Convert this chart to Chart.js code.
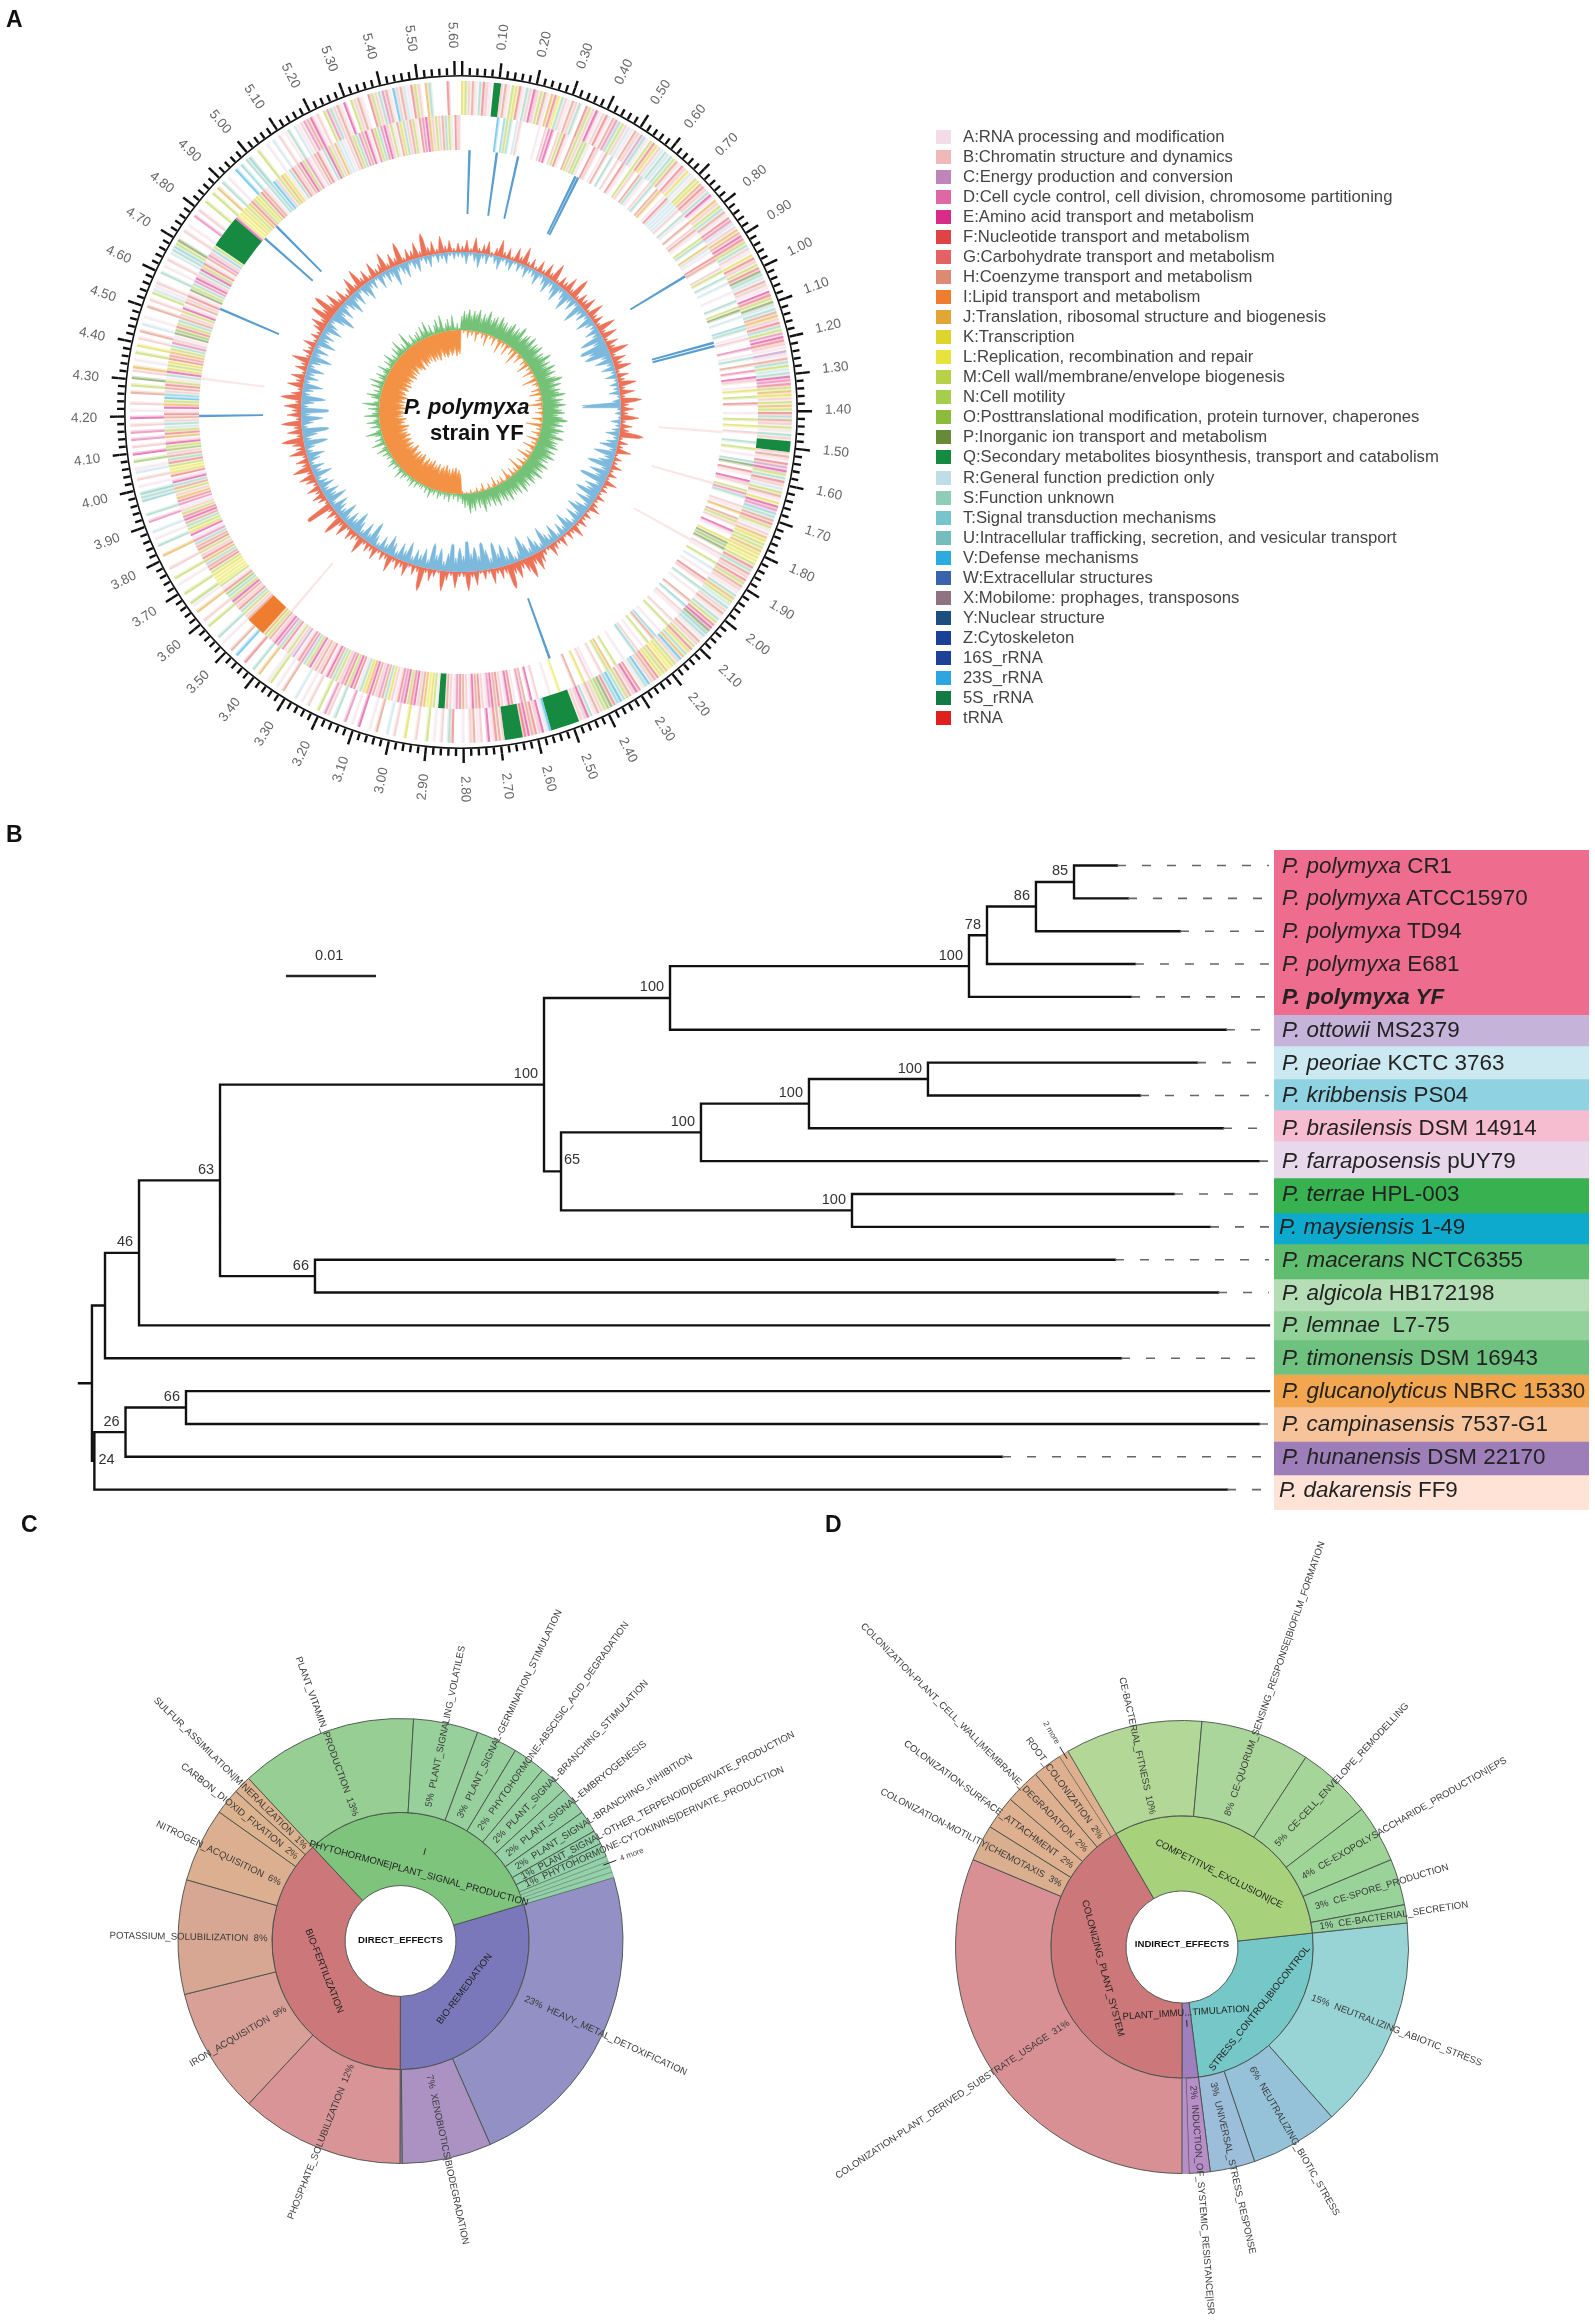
<!DOCTYPE html>
<html><head><meta charset="utf-8">
<style>
html,body{margin:0;padding:0;background:#fff;}
body{position:relative;width:1595px;height:2321px;overflow:hidden;font-family:"Liberation Sans",Arial,sans-serif;}
canvas{position:absolute;display:block;filter:blur(.45px);}
#overlay{filter:blur(.35px);}
.t{position:absolute;white-space:pre;}
.lg{position:absolute;width:14.5px;height:14px;}
</style>
<script src="https://cdn.jsdelivr.net/npm/chart.js@4"></script>
</head><body>
<canvas id="ringCanvas" width="800" height="800" style="left:61px;top:12px"></canvas>
<canvas id="gcCanvas" width="380" height="380" style="left:271px;top:222px"></canvas>
<canvas id="skewCanvas" width="220" height="220" style="left:351px;top:302px"></canvas>
<canvas id="treeCanvas" width="1214" height="660" style="left:60px;top:850px"></canvas>
<canvas id="bandCanvas" width="315" height="660" style="left:1274px;top:850px"></canvas>
<canvas id="directCanvas" width="791" height="790" style="left:5px;top:1546px"></canvas>
<canvas id="indirectCanvas" width="840" height="840" style="left:762px;top:1527px"></canvas>
<div id="overlay"></div>
<script>
/* ---------- Panel A data ---------- */
const legendLabels=["A:RNA processing and modification","B:Chromatin structure and dynamics","C:Energy production and conversion","D:Cell cycle control, cell division, chromosome partitioning","E:Amino acid transport and metabolism","F:Nucleotide transport and metabolism","G:Carbohydrate transport and metabolism","H:Coenzyme transport and metabolism","I:Lipid transport and metabolism","J:Translation, ribosomal structure and biogenesis","K:Transcription","L:Replication, recombination and repair","M:Cell wall/membrane/envelope biogenesis","N:Cell motility","O:Posttranslational modification, protein turnover, chaperones","P:Inorganic ion transport and metabolism","Q:Secondary metabolites biosynthesis, transport and catabolism","R:General function prediction only","S:Function unknown","T:Signal transduction mechanisms","U:Intracellular trafficking, secretion, and vesicular transport","V:Defense mechanisms","W:Extracellular structures","X:Mobilome: prophages, transposons","Y:Nuclear structure","Z:Cytoskeleton","16S_rRNA","23S_rRNA","5S_rRNA","tRNA"];
const legendColors=["#F1DCE7","#EFB9B9","#C084B8","#DF68A4","#D92B88","#DE4444","#E46264","#DD8A72","#EE7D2F","#E2A636","#DDD52E","#E8E33C","#B8D148","#A6CD4B","#8DBB3C","#678A39","#178A42","#BFDDE6","#90CDB8","#76C4CC","#73BDBD","#2BABE0","#3A63AE","#907383","#1C4E80","#1A4197","#1D4198","#2BA6DE","#127A43","#E0201F"];
const genomeMb=5.62;
const forwardRing=["KMBHASGBAQ","QBHAMKGASB","EBMHAJGLSB","AHBS.GMBEA","BGAHDSMBRA","HBCSAMGKBR","SRSMHAGBKR","AMKHGBSEAJ","BMSHAGDRBJ","HEGMSBAKGB","MGPSRHBAEG","MPRSHJBGSM","DEGBACAHSM","RSEDGMJKBM","JMGSHBMASB","QQQBHAGCEM","SGBRMHAKED","TSHGMABJKM","MJKKLMGSHB","GMHBASJMRS","BHASMGEPTS","AHBMGKSJVB","MKLJMKGHBV","SAGEBHMSVT","GPOMBHASEB","BQQQQQQQQV","AEBGHEFQQQ","QQBHGAE.BA","HB.A..GS.B",".A.M..B..K","..B.R..H.A","..E.A.D..S",".BD.M..B.A",".R...H.A.M","A..J.S..G.",".V.H..A.S.","..M.B..J.A","N..M..A.M.",".B...J..S.","A.R..D.S..",".TSU.A.B.R","A.O.E.B.D.","D.B.E.A.B.",".H.M.P.BJ.","A.M.K.B.H.","R.A..H.B.M","RAB..S.A.B",".RSTMP..B.","A..D.B..M.",".M.J.S.A..","V.T.SU..M.",".A.R.B.AS.","RABDHEAB.M","DSBHAE.MBH","A.GMBSDHAV","BHRAGMB.JS","....G..."];
const reverseRing=["..........",".V.TMS.RB.","....A.BDE.","BMGA.HMBNN","A.GB.AH.S.","B.GA.MB.HS","A.BS.HJ.AG","RRRRB.SA.H",".BHA.MS.JR","A.GH..BM.S",".R..A..S.M","P.R..TS.AB","..D.AS.H.D",".EB.AK.M.G","..A.M.K.B.",".S.M.A.SP.","GA.EB.MDS.",".BAJ.HMB.E","A.KPOP.BA.","M.R.A.GB.S",".A..H.T.BA","..B.M..A.T","H.M.A.BT..",".A..M.JM.B","..AB.K..H.","...L..A...","B.E.HD.AGE","ABGHEDABGH","EABHGDABHQ","QAMKLJHBEG","MEDGABKSHD","BHEJKSAGEM","GDBMSHEAGB","HBEMSDGACB","MAGSDEBHMJ","IIIIIIHBMS","GBHEMSOGAM","LLLKMGHSJG","BMGHSDAEKM","SHEGMBADGJ","BMHSEAGKLM","GSHBOMEAJG","MRSBHGAEJM","VTBHGMASEK","MKGHJMSDBA","POGMSHBMEA","HBGAPMSDEB","SEMGAHDBTM","QQQQQQQQQQ","ELLKKMJGMK","MGHASTVBMJ","KASGBHEMDA","BHGASEMBJR","RABHMSDHEA","GMSDEBMAHK","SBHMAGDEJB","MBHSMAGB"];
const rnaPositions=[0.025,0.119,0.193,0.401,0.411,0.915,1.163,1.168,1.464,1.642,1.85,2.493,3.433,4.195,4.324,4.571,4.858,4.915];
const rnaKinds=["b","b","b","b","b","b","b","b","p","p","p","b","p","b","p","b","b","b"];
const tickMinorMb=0.02, tickMajorMb=0.1, tickWidthMb=0.0062;
const tickLabels=["0.10","0.20","0.30","0.40","0.50","0.60","0.70","0.80","0.90","1.00","1.10","1.20","1.30","1.40","1.50","1.60","1.70","1.80","1.90","2.00","2.10","2.20","2.30","2.40","2.50","2.60","2.70","2.80","2.90","3.00","3.10","3.20","3.30","3.40","3.50","3.60","3.70","3.80","3.90","4.00","4.10","4.20","4.30","4.40","4.50","4.60","4.70","4.80","4.90","5.00","5.10","5.20","5.30","5.40","5.50","5.60"];
const gcPlus=[6,12,4,15,5,9,13,3,8,17,6,11,4,14,7,18,5,10,4,12,
5,14,7,19,4,11,8,16,6,22,5,12,9,15,4,17,7,11,5,19,
6,16,4,13,8,20,5,14,9,17,4,12,7,18,6,15,5,21,8,13,
7,18,5,12,9,24,4,10,6,15,3,8,5,11,4,9,3,13,5,7,
3,9,4,7,12,3,8,5,10,4,14,6,9,3,11,5,8,13,4,7,
12,18,10,22,14,9,17,11,25,8,12,6,15,4,9,3,14,6,19,5,
5,16,4,9,20,3,7,12,5,24,6,10,4,14,7,11,5,17,6,9,
4,13,7,10,5,18,6,9,12,4,15,7,22,5,11,6,28,4,9,13,
7,14,5,11,16,6,19,8,13,5,17,9,12,22,6,15,8,20,5,14,
9,17,6,21,11,5,16,8,14,4,12,7,18,5,10,6,13,4,9,5,
11,16,8,22,12,25,10,18,7,14,5,9,17,6,20,8,13,5,16,7,
10,19,6,14,8,22,5,12,9,16,6,23,8,13,5,17,7,12,4,9];
const gcMinus=[-6,-12,-4,-9,-15,-5,-10,-3,-8,-13,-4,-7,-11,-3,-9,-5,-12,-6,-8,-14,
-5,-10,-16,-7,-12,-18,-6,-11,-20,-8,-14,-5,-22,-9,-13,-6,-18,-10,-7,-15,
-9,-24,-12,-28,-20,-26,-10,-18,-7,-14,-5,-12,-4,-9,-6,-11,-3,-8,-34,-4,
-6,-3,-10,-5,-8,-14,-6,-12,-18,-7,-22,-10,-15,-25,-9,-20,-12,-27,-8,-18,
-14,-24,-10,-19,-7,-15,-21,-9,-17,-6,-12,-20,-8,-14,-5,-18,-10,-13,-22,-7,
-12,-19,-8,-15,-24,-10,-6,-17,-9,-22,-14,-26,-11,-20,-28,-15,-24,-18,-30,-16,
-24,-14,-28,-18,-10,-22,-15,-26,-9,-19,-12,-16,-8,-21,-11,-17,-7,-14,-20,-9,
-15,-6,-12,-24,-9,-18,-7,-14,-22,-11,-16,-8,-20,-10,-13,-18,-6,-21,-12,-17,
-8,-16,-11,-6,-19,-9,-14,-5,-12,-18,-7,-10,-24,-8,-15,-27,-6,-12,-22,-9,
-28,-7,-13,-24,-8,-11,-20,-6,-14,-9,-18,-7,-12,-22,-9,-16,-6,-20,-11,-15,
-8,-19,-12,-6,-15,-24,-10,-17,-7,-13,-20,-9,-16,-5,-12,-18,-8,-11,-4,-15,
-6,-13,-9,-20,-7,-11,-16,-5,-10,-14,-4,-8,-12,-3,-9,-6,-11,-4,-7,-5];
const skewPlus=[14,19,16,21,15,20,17,22,14,19,16,23,15,18,20,14,22,17,19,15,
18,22,15,20,17,24,14,19,21,16,23,15,20,18,22,14,19,17,24,16,
20,15,23,17,21,14,19,25,16,22,15,20,18,24,14,21,17,23,16,19,
22,15,20,25,17,21,14,23,18,16,24,15,20,19,22,14,21,17,23,16,
19,14,22,17,20,15,23,16,18,21,14,19,17,22,13,20,16,18,15,21,
14,19,16,13,20,15,18,12,17,14,21,13,16,11,18,15,20,12,14,10,
5,8,3,6,2,9,4,7,3,5,8,2,6,4,10,3,7,2,5,4,
3,7,2,9,4,6,2,5,8,3,11,4,2,7,3,9,5,2,6,4,
8,3,12,5,2,14,4,9,3,7,16,5,2,10,4,13,6,3,15,7,
4,11,3,17,6,2,9,14,4,8,3,12,5,15,3,7,11,4,6,13,
5,3,10,6,14,4,8,3,12,7,16,5,9,4,18,6,3,11,5,8,
10,4,13,7,16,5,11,3,9,14,6,17,4,8,12,5,15,3,7,2];
const skewMinus=[0,-3,-1,-8,-2,-5,-1,-10,-3,-1,-6,-2,-12,-1,-4,-2,-9,-1,-3,-14,
-2,-6,-1,-12,-3,-1,-8,-2,-16,-1,-4,-10,-2,-1,-7,-3,-13,-1,-5,-2,
-11,-1,-4,-2,-15,-1,-6,-3,-1,-9,-2,-12,-1,-3,-7,-1,-14,-2,-5,-1,
-8,-2,-1,-11,-3,-1,-16,-2,-5,-1,-9,-3,-1,-12,-2,-6,-1,-13,-4,-1,
-7,-2,-14,-1,-5,-2,-10,-1,-3,-15,-1,-6,-2,-9,-1,-4,-12,-2,-1,-7,
-2,-5,-1,-10,-3,-1,-6,-2,-1,-8,-3,-1,-5,-2,-1,-4,-1,-2,-1,-3,
-20,-24,-21,-26,-22,-25,-20,-24,-22,-27,-21,-25,-23,-20,-26,-22,-24,-21,-27,-23,
-25,-21,-26,-23,-20,-24,-27,-22,-25,-20,-26,-23,-21,-25,-28,-22,-24,-20,-26,-23,
-22,-26,-24,-21,-27,-23,-25,-20,-26,-22,-28,-24,-21,-25,-23,-27,-20,-24,-22,-26,
-24,-21,-27,-23,-25,-20,-26,-22,-24,-27,-21,-25,-23,-20,-26,-24,-22,-27,-21,-25,
-23,-26,-21,-24,-27,-22,-25,-20,-26,-23,-21,-25,-24,-27,-22,-20,-26,-23,-25,-21,
-24,-20,-26,-22,-25,-21,-27,-23,-20,-25,-22,-26,-24,-21,-25,-23,-20,-26,-22,-24];

/* ---------- Panel B data ---------- */
const speciesItalic=["P. polymyxa","P. polymyxa","P. polymyxa","P. polymyxa","P. polymyxa YF","P. ottowii","P. peoriae","P. kribbensis","P. brasilensis","P. farraposensis","P. terrae","P. maysiensis","P. macerans","P. algicola","P. lemnae","P. timonensis","P. glucanolyticus","P. campinasensis","P. hunanensis","P. dakarensis"];
const speciesStrain=["CR1","ATCC15970","TD94","E681","","MS2379","KCTC 3763","PS04","DSM 14914","pUY79","HPL-003","1-49","NCTC6355","HB172198"," L7-75","DSM 16943","NBRC 15330","7537-G1","DSM 22170","FF9"];
const speciesColors=["#EE6C8E","#EE6C8E","#EE6C8E","#EE6C8E","#EE6C8E","#C5B3D9","#CCE9F1","#8FD3E3","#F6BCD0","#E8D8EC","#38B150","#0DAACD","#5FBD6F","#B5DDB6","#93D29B","#6FC17F","#F2A650","#F7C39A","#9D7EB8","#FEE3D6"];
const bandHeights=[32.9,32.9,32.9,33,32.9,31.4,33,31,31,37,35,31,35,32,29,34.5,32.5,34.4,33.6,35];
const leafDepths=[.11533,.11656,.12233,.11733,.11689,.12744,.12422,.11789,.12711,.13111,.12167,.12567,.11511,.12656,.13222,.11578,.13222,.13111,.10256,.12756];
const tipLine=.13222;
const cladeDepths=[.11056,.10633,.10089,.09889,.06567,.09433,.08111,.06911,.08589,.05356,.05167,.02622,.01567,.00667,.00289,.01189,.00517,.00171,.00144];
const cladeChildren=[[0,1],[20,2],[21,3],[22,4],[23,5],[6,7],[25,8],[26,9],[10,11],[27,28],[24,29],[12,13],[30,31],[32,14],[33,15],[16,17],[35,18],[36,19],[34,37]];
const bootstrapNodes=[20,21,22,23,24,25,26,27,28,29,30,31,32,33,35,36,37];
const bootstrapValues=[85,86,78,100,100,100,100,100,100,65,100,66,63,46,66,26,24];
const scaleBarValue=0.01, scaleBarLabel="0.01";

/* ---------- Panel C data ---------- */
const directOuterNames=["HEAVY_METAL_DETOXIFICATION","XENOBIOTICS|BIODEGRADATION","","PHOSPHATE_SOLUBILIZATION","IRON_ACQUISITION","POTASSIUM_SOLUBILIZATION","NITROGEN_ACQUISITION","CARBON_DIOXID_FIXATION","SULFUR_ASSIMILATION|MINERALIZATION","PLANT_VITAMIN_PRODUCTION","PLANT_SIGNALING_VOLATILES","PLANT_SIGNAL-GERMINATION_STIMULATION","PHYTOHORMONE-ABSCISIC_ACID_DEGRADATION","PLANT_SIGNAL-BRANCHING_STIMULATION","PLANT_SIGNAL-EMBRYOGENESIS","PLANT_SIGNAL-BRANCHING_INHIBITION","PLANT_SIGNAL-OTHER_TERPENOID|DERIVATE_PRODUCTION","PHYTOHORMONE-CYTOKININS|DERIVATE_PRODUCTION","","","",""];
const directOuterPct=["23%","7%","","12%","9%","8%","6%","2%","1%","13%","5%","3%","2%","2%","2%","2%","1%","1%","","","",""];
const directOuterValues=[23.0,6.5,0.15,11.9,9.2,8.3,5.4,1.9,1.3,12.9,4.7,3.0,2.4,2.1,2.05,1.6,1.0,1.0,0.4,0.4,0.4,0.4];
const directOuterColors=["#9290C5","#AB92C3","#AB92C3","#D89497","#D8A097","#D8A793","#DBAF8F","#DDB28F","#DDB28F","#97CE93","#97D09A","#97D09D","#97D1A0","#97D1A2","#95D1A4","#95D1A6","#93D1A8","#93D1A8","#93D1A8","#93D1A8","#93D1A8","#93D1A8"];
const directInnerNames=["BIO-REMEDIATION","BIO-FERTILIZATION","PHYTOHORMONE|PLANT_SIGNAL_PRODUCTION"];
const directInnerValues=[29.65,38,32.35];
const directInnerColors=["#7A78BA","#CC7779","#7FC47C"];
const directInnerRadii=[80,82,70];
/* ---------- Panel D data ---------- */
const indirectOuterNames=["NEUTRALIZING_ABIOTIC_STRESS","NEUTRALIZING_BIOTIC_STRESS","UNIVERSAL_STRESS_RESPONSE","INDUCTION_OF_SYSTEMIC_RESISTANCE|ISR","","COLONIZATION-PLANT_DERIVED_SUBSTRATE_USAGE","COLONIZATION-MOTILITY|CHEMOTAXIS","COLONIZATION-SURFACE_ATTACHMENT","COLONIZATION-PLANT_CELL_WALL|MEMBRANE_DEGRADATION","ROOT_COLONIZATION","","CE-BACTERIAL_FITNESS","CE-QUORUM_SENSING_RESPONSE|BIOFILM_FORMATION","CE-CELL_ENVELOPE_REMODELLING","CE-EXOPOLYSACCHARIDE_PRODUCTION|EPS","CE-SPORE_PRODUCTION","CE-BACTERIAL_SECRETION"];
const indirectOuterPct=["15%","6%","3%","2%","","31%","3%","2%","2%","2%","","10%","8%","5%","4%","3%","1%"];
const indirectOuterValues=[15.2,6.3,3.2,1.5,0.5,31.3,2.6,2.4,2.5,2.1,0.7,9.8,7.8,5.4,4.1,3.3,1.3];
const indirectOuterColors=["#98D4D5","#95C2D9","#9CBEDA","#B88EC9","#B88EC9","#D89094","#DAAF90","#DFB08F","#DFB08F","#DFB08F","#DFB08F","#B3D796","#AAD69B","#A5D598","#9FD497","#99D39A","#97D29C"];
const indirectInnerNames=["STRESS_CONTROL|BIOCONTROL","PLANT_IMMU...TIMULATION","COLONIZING_PLANT_SYSTEM","COMPETITIVE_EXCLUSION|CE"];
const indirectInnerValues=[24.7,2,41.6,31.7];
const indirectInnerColors=["#76C7C7","#A07FBF","#CC7779","#A8D17C"];
const indirectInnerRadii=[99,66,82,82];

/* ---------- helpers ---------- */
const base={responsive:false,animation:false,devicePixelRatio:1,events:[],plugins:{legend:{display:false},tooltip:{enabled:false}}};
const FONT='"Liberation Sans", Arial, sans-serif';
const overlay=document.getElementById('overlay');
function addText(x,y,html,css){const d=document.createElement('div');d.className='t';d.style.left=x+'px';d.style.top=y+'px';d.style.cssText+=css||'';d.innerHTML=html;overlay.appendChild(d);return d;}
function ringDataset(chunks,weight){
  const letters=chunks.join('').split(''),bin=genomeMb/letters.length;
  const data=[],bg=[];
  letters.forEach(ch=>{
    if(ch==='.'){data.push(bin);bg.push('rgba(255,255,255,0)');return;}
    const c=legendColors[ch.charCodeAt(0)-65];
    if(ch==='Q'||ch==='I'){
      if(bg.length&&bg[bg.length-1]===c)data[data.length-1]+=bin;else{data.push(bin);bg.push(c);}
      return;
    }
    data.push(bin*.6,bin*.4);bg.push(c+'98',c+'40');
  });
  return {data,backgroundColor:bg,borderWidth:0,weight};
}
function tickDataset(step,weight){
  const data=[],bg=[];
  for(let p=0;p<genomeMb-1e-6;p+=step){
    data.push(tickWidthMb,Math.min(step,genomeMb-p)-tickWidthMb);bg.push('#111','rgba(0,0,0,0)');
  }
  return {data,backgroundColor:bg,borderWidth:0,weight};
}
function rnaDataset(weight){
  const data=[],bg=[];let pos=0;const w=0.0085;
  rnaPositions.forEach((p,i)=>{data.push(p-pos,w);bg.push('rgba(0,0,0,0)',rnaKinds[i]==='b'?'#5A9ED0':'#FBE6E6');pos=p+w;});
  data.push(genomeMb-pos);bg.push('rgba(0,0,0,0)');
  return {data,backgroundColor:bg,borderWidth:0,weight};
}
/* each reading is drawn as one thin spike over a low shoulder */
function comb(values,k){const out=[];values.forEach(v=>{const f=Math.sign(v)*v*v/k;out.push(f,v,f);});return out;}
/* ---------- Panel A charts ---------- */
const tickLabelPlugin={id:'tickLabelPlugin',afterDraw(chart){
  const ctx=chart.ctx,cx=(chart.chartArea.left+chart.chartArea.right)/2,cy=(chart.chartArea.top+chart.chartArea.bottom)/2;
  ctx.save();ctx.font='13.5px '+FONT;ctx.fillStyle='#666';ctx.textAlign='center';ctx.textBaseline='middle';
  tickLabels.forEach(lb=>{
    const a=parseFloat(lb)/genomeMb*2*Math.PI-Math.PI/2;
    ctx.save();ctx.translate(cx+377*Math.cos(a),cy+377*Math.sin(a));
    ctx.rotate(Math.cos(a)>=0?a:a+Math.PI);ctx.fillText(lb,0,0);ctx.restore();
  });
  ctx.restore();
}};
new Chart(document.getElementById('ringCanvas'),{type:'doughnut',
  data:{datasets:[tickDataset(tickMajorMb,7),tickDataset(tickMinorMb,7),
    {data:[1],backgroundColor:['#111'],borderWidth:0,weight:1.6},
    {data:[1],backgroundColor:['rgba(0,0,0,0)'],borderWidth:0,weight:4.4},
    ringDataset(forwardRing,34),ringDataset(reverseRing,35),rnaDataset(64)]},
  options:{...base,radius:351,cutout:(198/351*100)+'%'},plugins:[tickLabelPlugin]});
const radarLabels=comb(gcPlus,1).map((_,i)=>String(i));
function radarOptions(min,max){return {...base,scales:{r:{display:false,min,max,grid:{display:false},angleLines:{display:false},pointLabels:{display:false},ticks:{display:false}}},elements:{point:{radius:0},line:{tension:0,borderWidth:0.5}}};}
new Chart(document.getElementById('gcCanvas'),{type:'radar',
  data:{labels:radarLabels,datasets:[
    {data:comb(gcPlus,30),borderColor:'#E8674A',backgroundColor:'#EC7358',fill:{value:0}},
    {data:comb(gcMinus,30),borderColor:'#6FB2D8',backgroundColor:'#7CB9DC',fill:{value:0}}]},
  options:radarOptions(-160,30)});
new Chart(document.getElementById('skewCanvas'),{type:'radar',
  data:{labels:radarLabels,datasets:[
    {data:comb(skewPlus,28),borderColor:'#6FBF73',backgroundColor:'#74C278',fill:{value:0}},
    {data:comb(skewMinus,28),borderColor:'#F28C3B',backgroundColor:'#F39245',fill:{value:0}}]},
  options:radarOptions(-82,28)});
/* ---------- Panel B chart ---------- */
const rows=[],depths=[...leafDepths,...cladeDepths];
leafDepths.forEach((_,i)=>rows[i]=i);
cladeChildren.forEach((c,i)=>{rows[20+i]=(rows[c[0]]+rows[c[1]])/2;});
const branchPts=[];
cladeChildren.forEach((c,i)=>{
  const id=20+i;
  c.forEach(ch=>{branchPts.push({x:depths[id],y:rows[ch]},{x:depths[ch],y:rows[ch]},{x:NaN,y:NaN});});
  branchPts.push({x:depths[id],y:rows[c[0]]},{x:depths[id],y:rows[c[1]]},{x:NaN,y:NaN});
});
const rootId=depths.length-1;
branchPts.push({x:0,y:rows[rootId]},{x:depths[rootId],y:rows[rootId]});
const dashPts=[];
leafDepths.forEach((d,i)=>{if(d<tipLine-.0005)dashPts.push({x:d,y:i},{x:tipLine,y:i},{x:NaN,y:NaN});});
const treeLabelPlugin={id:'treeLabelPlugin',afterDraw(chart){
  const ctx=chart.ctx,X=chart.scales.x,Y=chart.scales.y;
  ctx.save();ctx.font='14.5px '+FONT;ctx.fillStyle='#333';ctx.textBaseline='middle';
  bootstrapNodes.forEach((n,i)=>{
    const x=X.getPixelForValue(depths[n]),y=Y.getPixelForValue(rows[n]),v=String(bootstrapValues[i]);
    if(v==='65'){ctx.textAlign='left';ctx.fillText(v,x+3,y-11);}
    else if(n===37){ctx.textAlign='left';ctx.fillText(v,x+4,y-1);}
    else{ctx.textAlign='right';ctx.fillText(v,x-6,y-10.5);}
  });
  ctx.textAlign='center';
  ctx.fillText(scaleBarLabel,X.getPixelForValue(.0278),Y.getPixelForValue(3.364)-20);
  ctx.restore();
}};
const treeChart=new Chart(document.getElementById('treeCanvas'),{type:'scatter',
  data:{datasets:[
    {data:dashPts,showLine:true,borderColor:'#666',borderWidth:1.6,borderDash:[9,16],pointRadius:0,spanGaps:false},
    {data:branchPts,showLine:true,borderColor:'#111',borderWidth:2.4,pointRadius:0,spanGaps:false,borderCapStyle:'square'},
    {data:[{x:.023,y:3.364},{x:.023+scaleBarValue,y:3.364}],showLine:true,borderColor:'#222',borderWidth:2.6,pointRadius:0}]},
  options:{...base,scales:{x:{type:'linear',display:false,min:-.00211,max:.13278},y:{type:'linear',display:false,reverse:true,min:-.472,max:19.62}}},
  plugins:[treeLabelPlugin]});
new Chart(document.getElementById('bandCanvas'),{type:'bar',
  data:{labels:['bands'],datasets:bandHeights.map((h,i)=>({label:speciesItalic[i],data:[h],backgroundColor:speciesColors[i],borderWidth:0,barPercentage:1,categoryPercentage:1,stack:'s'}))},
  options:{...base,scales:{x:{display:false,stacked:true},y:{display:false,stacked:true,reverse:true,min:0,max:660}}}});
/* species labels */
speciesItalic.forEach((n,i)=>{
  const y=850+treeChart.scales.y.getPixelForValue(i);
  const bold=n.endsWith('YF');
  addText(i===11||i===19?1279:1282,y-13,(bold?'<b><i>':'<i>')+n+(bold?'</i></b>':'</i>')+(speciesStrain[i]?' '+speciesStrain[i]:''),'font-size:22.4px;line-height:26px;color:#222;');
});
/* ---------- Panels C & D ---------- */
function kronaPlugin(o){return {id:'krona'+o.title,afterDraw(chart){
  const ctx=chart.ctx,cx=(chart.chartArea.left+chart.chartArea.right)/2,cy=(chart.chartArea.top+chart.chartArea.bottom)/2;
  const outer=chart.getDatasetMeta(0).data,inner=chart.getDatasetMeta(1).data;
  ctx.save();ctx.textBaseline='middle';ctx.fillStyle='#3a3a3a';ctx.font='9.6px '+FONT;
  outer.forEach((arc,i)=>{
    const nm=o.names[i];if(!nm)return;
    const mid=(arc.startAngle+arc.endAngle)/2,right=Math.cos(mid)>=0;
    ctx.save();ctx.translate(cx,cy);
    if(right){ctx.rotate(mid);ctx.textAlign='left';ctx.fillText(o.pct[i]+'  '+nm,o.startR,0);}
    else{ctx.rotate(mid+Math.PI);ctx.textAlign='right';ctx.fillText(nm+'  '+o.pct[i],-o.startRLeft,0);}
    ctx.restore();
  });
  ctx.fillStyle='#222';
  inner.forEach((arc,i)=>{
    const mid=(arc.startAngle+arc.endAngle)/2,r=o.innerR[i],top=Math.sin(mid)<=0;
    ctx.save();ctx.translate(cx+r*Math.cos(mid),cy+r*Math.sin(mid));
    ctx.rotate(top?mid+Math.PI/2:mid-Math.PI/2);ctx.textAlign='center';ctx.fillText(o.innerNames[i],0,0);
    ctx.restore();
  });
  /* the small extra "I" label of the ring and the "n more" pointer */
  const ia=o.iArc(inner),ma=o.moreAngle*Math.PI/180-Math.PI/2;
  ctx.save();ctx.translate(cx+o.iR*Math.cos(ia),cy+o.iR*Math.sin(ia));ctx.rotate(ia+Math.PI/2);ctx.textAlign='center';ctx.fillText('I',0,0);ctx.restore();
  const R=chart.getDatasetMeta(0).data[0].outerRadius;
  ctx.strokeStyle='#222';ctx.lineWidth=1;ctx.beginPath();ctx.moveTo(cx+(R-6)*Math.cos(ma),cy+(R-6)*Math.sin(ma));ctx.lineTo(cx+(R+8)*Math.cos(ma),cy+(R+8)*Math.sin(ma));ctx.stroke();
  ctx.save();ctx.translate(cx,cy);ctx.font='8px '+FONT;ctx.fillStyle='#444';
  if(Math.cos(ma)>=0){ctx.rotate(ma);ctx.textAlign='left';ctx.fillText(o.more,R+12,0);}else{ctx.rotate(ma+Math.PI);ctx.textAlign='right';ctx.fillText(o.more,-R-12,0);}
  ctx.restore();
  ctx.font='bold 9.6px '+FONT;ctx.fillStyle='#111';ctx.textAlign='center';ctx.fillText(o.title,cx,cy-o.titleDy);
  ctx.restore();
}};}
function krona(id,rad,cut,rot,outerV,outerC,innerV,innerC,w1,w2,opts){
  const n=outerV.length,thin=opts.thinSlices;
  new Chart(document.getElementById(id),{type:'doughnut',
    data:{datasets:[
      {data:outerV,backgroundColor:outerC,borderColor:'#46504a',borderWidth:outerV.map((_,i)=>thin.includes(i)?.35:.9),weight:w1},
      {data:innerV,backgroundColor:innerC,borderColor:'#46504a',borderWidth:.9,weight:w2}]},
    options:{...base,radius:rad,cutout:(cut/rad*100)+'%',rotation:rot},plugins:[kronaPlugin(opts)]});
}
krona('directCanvas',222.5,55.4,73.4,directOuterValues,directOuterColors,directInnerValues,directInnerColors,93.9,73.2,
  {title:'DIRECT_EFFECTS',titleDy:1,names:directOuterNames,pct:directOuterPct,startR:137,startRLeft:133,innerNames:directInnerNames,innerR:directInnerRadii,iR:92,iArc:inner=>(inner[2].startAngle+inner[2].endAngle)/2,more:'4 more',moreAngle:69.5,thinSlices:[18,19,20,21]});
krona('indirectCanvas',226.5,56,83.9,indirectOuterValues,indirectOuterColors,indirectInnerValues,indirectInnerColors,95,75,
  {title:'INDIRECT_EFFECTS',titleDy:3,names:indirectOuterNames,pct:indirectOuterPct,startR:139,startRLeft:136,innerNames:indirectInnerNames,innerR:indirectInnerRadii,iR:76,iArc:inner=>(inner[1].startAngle+inner[1].endAngle)/2,more:'2 more',moreAngle:328.6,thinSlices:[4,10]});
/* ---------- DOM text ---------- */
legendLabels.forEach((l,i)=>{
  const y=137+i*20.03;
  const box=document.createElement('div');box.className='lg';box.style.left='936px';box.style.top=(y-7)+'px';box.style.background=legendColors[i];overlay.appendChild(box);
  addText(963,y-9,l,'font-size:16.7px;line-height:18px;color:#444;');
});
addText(404,393,'<b><i>P. polymyxa</i></b>','font-size:22px;line-height:28px;color:#111;');
addText(430,419,'<b>strain YF</b>','font-size:22px;line-height:28px;color:#111;');
addText(6,6,'<b>A</b>','font-size:23px;line-height:26px;color:#111;');
addText(6,821,'<b>B</b>','font-size:23px;line-height:26px;color:#111;');
addText(21,1511,'<b>C</b>','font-size:23px;line-height:26px;color:#111;');
addText(825,1511,'<b>D</b>','font-size:23px;line-height:26px;color:#111;');
</script>
</body></html>
